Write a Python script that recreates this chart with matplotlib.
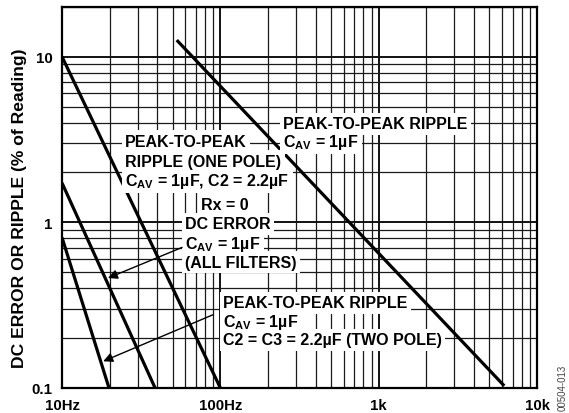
import matplotlib
matplotlib.use("Agg")
import matplotlib.pyplot as plt
from matplotlib.ticker import FixedLocator, LogLocator, NullFormatter

plt.rcParams['font.family'] = ['Liberation Sans', 'DejaVu Sans']
plt.rcParams['mathtext.fontset'] = 'custom'
plt.rcParams['mathtext.rm'] = 'Liberation Sans'
plt.rcParams['mathtext.bf'] = 'Liberation Sans:bold'

# curves (Hz, % of reading)
two_pole_hz = [10, 19.8]
two_pole_pct = [0.81, 0.1]
dc_error_hz = [10, 38.7]
dc_error_pct = [1.73, 0.1]
one_pole_hz = [10, 100]
one_pole_pct = [10, 0.1]
ripple_hz = [53, 6200]
ripple_pct = [12.6, 0.103]

x_ticks = [10, 100, 1000, 10000]
x_labels = ['10Hz', '100Hz', '1k', '10k']
y_ticks = [0.1, 1, 10]
y_labels = ['0.1', '1', '10']

fig = plt.figure(figsize=(5.69, 4.14), dpi=100)
ax = fig.add_axes([0.109, 0.0604, 0.835, 0.9206])
ax.set_xscale('log')
ax.set_yscale('log')
ax.set_xlim(10, 10000)
ax.set_ylim(0.1, 20)

ax.xaxis.set_major_locator(FixedLocator(x_ticks))
ax.set_xticklabels(x_labels)
ax.yaxis.set_major_locator(FixedLocator(y_ticks))
ax.set_yticklabels(y_labels)
ax.xaxis.set_minor_locator(LogLocator(base=10, subs=range(2, 10)))
ax.yaxis.set_minor_locator(LogLocator(base=10, subs=range(2, 10)))
ax.xaxis.set_minor_formatter(NullFormatter())
ax.yaxis.set_minor_formatter(NullFormatter())
ax.tick_params(which='both', length=0)
ax.tick_params(axis='x', pad=7)
ax.tick_params(axis='y', pad=7)
for lab in ax.get_xticklabels() + ax.get_yticklabels():
    lab.set_fontweight('bold')
    lab.set_fontsize(10.8)

ax.grid(True, which='major', color='#111111', linewidth=1.4)
ax.grid(True, which='minor', color='#1a1a1a', linewidth=0.9)
for s in ax.spines.values():
    s.set_linewidth(1.6)

for xs, ys in [(two_pole_hz, two_pole_pct), (dc_error_hz, dc_error_pct),
               (one_pole_hz, one_pole_pct), (ripple_hz, ripple_pct)]:
    ax.plot(xs, ys, color='black', linewidth=2.3, solid_capstyle='butt', zorder=3)

ax.set_ylabel('DC ERROR OR RIPPLE (% of Reading)', fontweight='bold', fontsize=12.6)
ax.yaxis.set_label_coords(-0.074, 0.475)

box = dict(facecolor='white', edgecolor='none', pad=2.5)
cav = r'C$_{\mathbf{AV}}$ = 1µF'

def label(x, y, s, ha='left'):
    # white patch first, text on top so neighbouring boxes don't clip it
    ax.text(x, y, s, ha=ha, va='center', fontsize=11.5, fontweight='bold',
            color='white', bbox=box, zorder=4)
    ax.text(x, y, s, ha=ha, va='center', fontsize=11.5, fontweight='bold',
            color='black', zorder=6)

label(249, 3.94, 'PEAK-TO-PEAK RIPPLE')
label(249, 3.08, cav)

label(25.0, 3.08, 'PEAK-TO-PEAK')
label(25.0, 2.34, 'RIPPLE (ONE POLE)')
label(25.0, 1.80, cav + ', C2 = 2.2µF')

label(107, 1.29, 'Rx = 0', ha='center')

label(59.8, 0.98, 'DC ERROR')
label(59.8, 0.745, cav)
label(59.8, 0.574, '(ALL FILTERS)')

label(104, 0.327, 'PEAK-TO-PEAK RIPPLE')
label(104, 0.251, cav)
label(104, 0.196, 'C2 = C3 = 2.2µF (TWO POLE)')

arrow = dict(arrowstyle='-|>', color='black', linewidth=1.0, mutation_scale=14,
             shrinkA=0, shrinkB=0)
ax.annotate('', xy=(19.5, 0.461), xytext=(57.3, 0.706), arrowprops=arrow, zorder=5)
ax.annotate('', xy=(18.2, 0.145), xytext=(89.9, 0.277), arrowprops=arrow, zorder=5)

fig.text(0.988, 0.063, '00504-013', rotation=90, ha='center', va='center',
         fontsize=7, color='#444444')

fig.savefig('out.png', dpi=100)
